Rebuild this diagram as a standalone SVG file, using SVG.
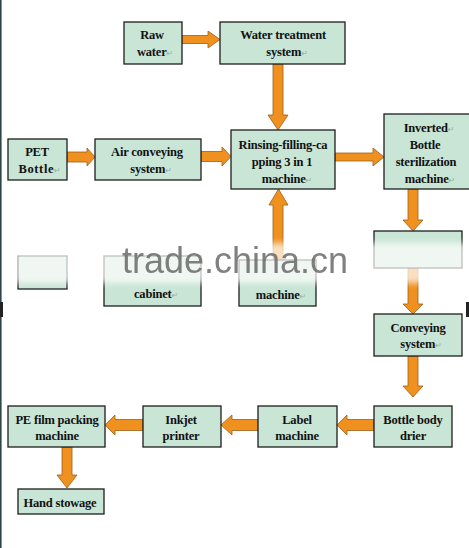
<svg xmlns="http://www.w3.org/2000/svg" width="469" height="548" viewBox="0 0 469 548">
<style>
.box{fill:#c9e5d5;stroke:#1e1e1e;stroke-width:1.3}
.t{font-family:"Liberation Serif","Times New Roman",serif;font-weight:bold;font-size:12.5px;fill:#111;text-anchor:middle;letter-spacing:-0.2px}
.pm{font-family:"DejaVu Sans",sans-serif;font-weight:normal;font-size:8px;fill:#8fb0a0}
.ar{fill:#f0901f;stroke:#9a5f18;stroke-width:0.8;stroke-linejoin:miter}
</style>
<defs>
<filter id="soft" x="-5%" y="-40%" width="110%" height="180%"><feGaussianBlur stdDeviation="3"/></filter>
</defs>
<rect width="469" height="548" fill="#ffffff"/>
<rect x="0" y="0" width="1.6" height="548" fill="#2f4646"/>
<rect x="0" y="302" width="3" height="15" fill="#222"/>
<rect x="466" y="302" width="3" height="15" fill="#222"/>

<g id="connectors">
<polygon class="ar" points="182,35.5 208,35.5 208,31 220,39.5 208,48 208,43.5 182,43.5"/>
<polygon class="ar" points="273,64 283,64 283,115 288,115 278,130 268,115 273,115"/>
<polygon class="ar" points="67,152 87,152 87,148 95,157 87,166 87,162 67,162"/>
<polygon class="ar" points="201,151.5 222,151.5 222,147 231,156.5 222,166 222,161.5 201,161.5"/>
<polygon class="ar" points="335,153 373,153 373,148 384,157 373,166 373,161 335,161"/>
<polygon class="ar" points="273,260 273,205 269,205 278.5,189 288,205 283,205 283,260"/>
<polygon class="ar" points="408,189 418,189 418,220 423,220 413,231 403,220 408,220"/>
<polygon class="ar" points="408,268 418,268 418,304 423,304 413,314 403,304 408,304"/>
<polygon class="ar" points="408,356 418,356 418,386 423,386 413,397 403,386 408,386"/>
<polygon class="ar" points="374,419.5 347,419.5 347,415 337,425 347,435 347,430.5 374,430.5"/>
<polygon class="ar" points="258,419.5 232,419.5 232,415 221,425 232,435 232,430.5 258,430.5"/>
<polygon class="ar" points="143,419.5 115,419.5 115,415 105,425 115,435 115,430.5 143,430.5"/>
<polygon class="ar" points="62,447 72,447 72,475 77,475 67,488 57,475 62,475"/>
</g>

<g id="raw-water">
<rect class="box" x="124" y="22" width="58" height="42"/>
<text class="t" x="152" y="39">Raw</text>
<text class="t" x="155" y="56">water<tspan class="pm">↵</tspan></text>
</g>
<g id="water-treatment">
<rect class="box" x="220" y="22" width="125" height="42"/>
<text class="t" x="283" y="39">Water treatment</text>
<text class="t" x="287" y="56">system<tspan class="pm">↵</tspan></text>
</g>
<g id="pet-bottle">
<rect class="box" x="8" y="139" width="59" height="41"/>
<text class="t" x="37" y="156">PET</text>
<text class="t" x="40" y="173" style="letter-spacing:0.6px">Bottle<tspan class="pm">↵</tspan></text>
</g>
<g id="air-conveying">
<rect class="box" x="95" y="139" width="106" height="41"/>
<text class="t" x="147" y="156">Air conveying</text>
<text class="t" x="151" y="173">system<tspan class="pm">↵</tspan></text>
</g>
<g id="rinsing">
<rect class="box" x="231" y="130" width="104" height="59"/>
<text class="t" x="283" y="149">Rinsing-filling-ca</text>
<text class="t" x="282" y="166">pping 3 in 1</text>
<text class="t" x="287" y="183">machine<tspan class="pm">↵</tspan></text>
</g>
<g id="inverted">
<rect class="box" x="384" y="114" width="86" height="75"/>
<text class="t" x="429" y="132">Inverted<tspan class="pm">↵</tspan></text>
<text class="t" x="425" y="149">Bottle</text>
<text class="t" x="426" y="166">sterilization</text>
<text class="t" x="430" y="183">machine<tspan class="pm">↵</tspan></text>
</g>
<g id="left-hidden">
<rect class="box" x="18" y="256" width="49" height="33"/>
</g>
<g id="cabinet">
<rect class="box" x="104" y="256" width="97" height="50"/>
<text class="t" x="156" y="298">cabinet<tspan class="pm">↵</tspan></text>
</g>
<g id="machine-mid">
<rect class="box" x="239" y="260" width="77" height="46"/>
<text class="t" x="281" y="299">machine<tspan class="pm">↵</tspan></text>
</g>
<g id="right-hidden">
<rect class="box" x="374" y="231" width="88" height="37"/>
</g>
<g id="conveying">
<rect class="box" x="374" y="314" width="88" height="42"/>
<text class="t" x="418" y="332">Conveying</text>
<text class="t" x="421" y="348">system<tspan class="pm">↵</tspan></text>
</g>
<g id="drier">
<rect class="box" x="374" y="406" width="78" height="41"/>
<text class="t" x="413" y="424">Bottle body</text>
<text class="t" x="413" y="440">drier</text>
</g>
<g id="label">
<rect class="box" x="258" y="406" width="79" height="41"/>
<text class="t" x="297" y="424">Label</text>
<text class="t" x="297" y="440">machine</text>
</g>
<g id="inkjet">
<rect class="box" x="143" y="406" width="78" height="41"/>
<text class="t" x="181" y="424">Inkjet</text>
<text class="t" x="181" y="440">printer</text>
</g>
<g id="pe-film">
<rect class="box" x="8" y="406" width="97" height="41"/>
<text class="t" x="57" y="424">PE film packing</text>
<text class="t" x="57" y="440">machine</text>
</g>
<g id="hand-stowage">
<rect class="box" x="18" y="489" width="86" height="25"/>
<text class="t" x="60" y="507">Hand stowage</text>
</g>

<rect x="14" y="243" width="455" height="40" fill="#ffffff" opacity="0.72" filter="url(#soft)"/>
<text x="122" y="273" font-family="Liberation Sans, Arial, sans-serif" font-size="36" fill="#6a6a6a" opacity="0.85">trade.china.cn</text>
</svg>
